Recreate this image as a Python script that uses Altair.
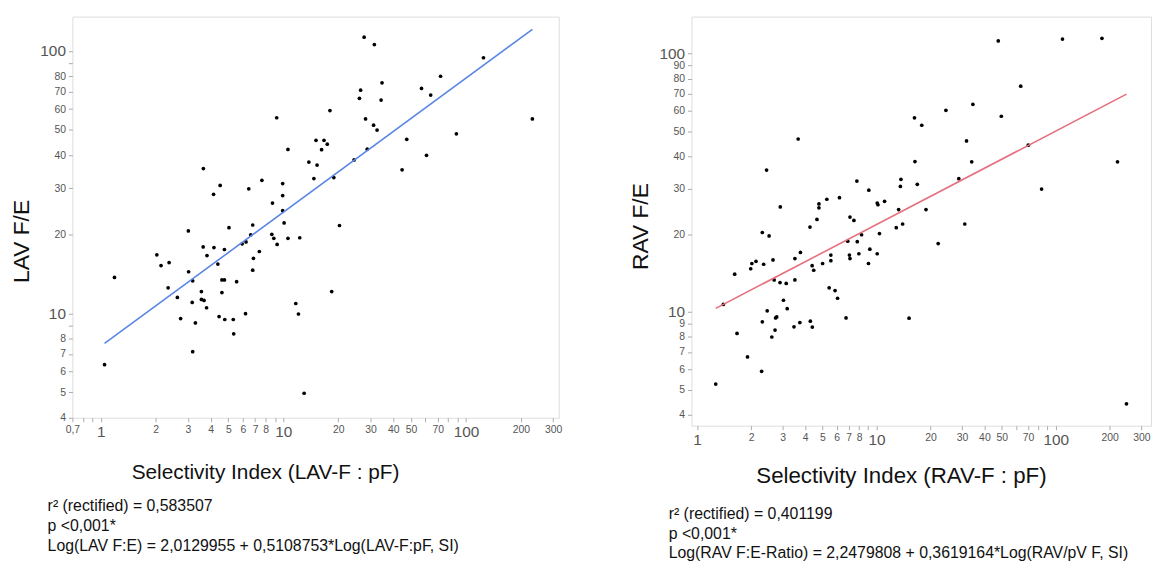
import altair as alt
import pandas as pd

# ---- Left panel data (LAV) ----
lav_si = [9.2, 10.6, 3.65, 4.15, 4.51, 6.47, 7.63, 9.92, 9.92, 8.72,
          9.92, 27.7, 31.5, 124.7, 72.6, 57.1, 64.1, 26.5, 26.1, 34.7,
          34.3, 18.0, 28.2, 231, 31.2, 32.6, 47.4, 88.6, 15.1, 16.7,
          17.4, 16.2, 28.8, 24.4, 13.8, 15.3, 60.8, 44.7, 14.7, 18.9,
          10.1, 10.6, 8.65, 8.87, 9.25, 12.3, 20.3, 18.4, 11.7, 12.1,
          13.0, 2.03, 2.14, 2.37, 2.34, 2.63, 1.19, 3.02, 3.03, 3.19,
          3.17, 2.74, 3.30, 3.19, 3.64, 3.82, 4.17, 4.76, 4.38, 5.04,
          3.56, 3.56, 3.68, 3.80, 4.61, 4.61, 4.76, 4.45, 4.78, 5.32,
          5.35, 5.55, 5.95, 6.25, 6.63, 6.80, 6.86, 6.80, 6.21, 7.39,
          1.05]
lav_fe = [55.6, 42.1, 35.6, 28.4, 30.7, 29.8, 32.1, 31.2, 28.1, 26.3,
          24.6, 112.7, 105.6, 94.1, 80.0, 71.9, 67.8, 70.8, 65.9, 75.5,
          64.9, 59.2, 55.0, 55.0, 52.1, 49.9, 46.0, 48.3, 45.6, 45.6,
          44.1, 42.0, 42.2, 38.4, 37.7, 36.7, 40.0, 35.2, 32.6, 32.9,
          22.1, 19.3, 20.0, 19.3, 18.3, 19.4, 21.6, 12.1, 10.9, 9.94,
          4.96, 16.7, 15.2, 15.6, 12.5, 11.5, 13.7, 20.6, 14.4, 13.3,
          11.0, 9.55, 9.19, 7.14, 17.9, 16.6, 17.8, 17.5, 15.4, 21.2,
          12.1, 11.3, 11.2, 10.5, 13.4, 12.0, 13.4, 9.72, 9.47, 9.47,
          8.35, 13.2, 18.4, 18.7, 19.9, 21.7, 16.2, 14.6, 9.97, 17.2,
          6.37]
lav_intercept = 2.0129955
lav_slope = 0.5108753

# ---- Right panel data (RAV) ----
rav_si = [3.66, 2.44, 2.91, 4.78, 4.78, 5.29, 6.22, 7.78, 9.07, 10.1,
          10.2, 11.1, 4.66, 4.26, 7.12, 7.49, 47.8, 109, 181, 63.8,
          34.5, 24.4, 49.7, 16.3, 17.9, 31.8, 70.3, 16.4, 34.0, 221,
          28.8, 13.7, 13.6, 16.9, 83.4, 13.3, 18.9, 14.0, 12.9, 31.1,
          2.31, 2.52, 7.82, 8.26, 6.92, 10.4, 3.77, 3.51, 2.65, 2.13,
          2.02, 2.35, 1.99, 1.62, 4.38, 4.47, 5.01, 5.57, 5.57, 7.07,
          7.12, 7.98, 9.19, 10.1, 9.03, 2.69, 2.90, 3.14, 3.51, 5.45,
          5.88, 6.07, 3.03, 3.18, 2.46, 2.74, 2.78, 2.31, 3.74, 4.28,
          4.39, 3.47, 2.72, 2.61, 6.77, 1.40, 1.67, 1.91, 2.29, 1.27,
          22.1, 15.2, 248]
rav_fe = [46.7, 35.4, 25.5, 26.2, 25.3, 27.3, 27.7, 32.1, 29.6, 26.4,
          26.0, 26.8, 22.8, 21.3, 23.3, 22.6, 111.9, 113.8, 114.5, 74.8,
          63.6, 60.3, 57.2, 56.4, 52.8, 45.9, 44.2, 38.2, 38.1, 38.1,
          32.8, 32.6, 30.6, 31.2, 29.9, 24.9, 24.9, 21.9, 21.2, 21.9,
          20.3, 19.7, 18.7, 19.9, 18.8, 20.1, 17.0, 16.1, 15.9, 15.7,
          15.4, 15.3, 14.7, 14.0, 15.1, 14.5, 15.4, 16.6, 15.8, 16.6,
          16.1, 16.8, 17.5, 16.8, 15.4, 13.3, 13.0, 12.9, 13.3, 12.4,
          12.1, 11.3, 11.1, 10.3, 10.1, 9.48, 9.57, 9.16, 9.10, 9.21,
          8.74, 8.76, 8.51, 8.00, 9.48, 10.7, 8.26, 6.70, 5.89, 5.26,
          18.4, 9.46, 4.41]
rav_intercept = 2.2479808
rav_slope = 0.3619164

# ---- tick values ----
lav_x_ticks = [0.7, 0.8, 0.9, 1, 2, 3, 4, 5, 6, 7, 8, 9, 10, 20, 30, 40, 50, 60, 70, 80, 90, 100, 200, 300]
lav_y_ticks = [4, 5, 6, 7, 8, 9, 10, 20, 30, 40, 50, 60, 70, 80, 90, 100]
rav_x_ticks = [1, 2, 3, 4, 5, 6, 7, 8, 9, 10, 20, 30, 40, 50, 60, 70, 80, 90, 100, 200, 300]
rav_y_ticks = [4, 5, 6, 7, 8, 9, 10, 20, 30, 40, 50, 60, 70, 80, 90, 100]
lav_x_unlabeled = [0.8, 0.9, 9, 60, 80, 90]
lav_y_unlabeled = [9, 90]
rav_x_unlabeled = [9, 60, 80, 90]
rav_y_unlabeled = []

lav_notes = ["r² (rectified) = 0,583507", "p <0,001*",
             "Log(LAV F:E) = 2,0129955 + 0,5108753*Log(LAV-F:pF, SI)"]
rav_notes = ["r² (rectified) = 0,401199", "p <0,001*",
             "Log(RAV F:E-Ratio) = 2,2479808 + 0,3619164*Log(RAV/pV F, SI)"]

FONT = "Liberation Sans"


def make_axis(values, unlabeled):
    hidden = "[" + ",".join(str(v) for v in unlabeled) + "]"
    return alt.Axis(
        values=values,
        labelExpr=f"indexof({hidden}, datum.value) >= 0 ? '' : replace(format(datum.value, '~g'), '.', ',')",
        labelFontSize={"condition": {"test": "datum.value == 1 || datum.value == 10 || datum.value == 100",
                                     "value": 15.5}, "value": 10.5},
        labelColor="#555555",
        labelFont=FONT,
        labelPadding=3,
        tickSize=4,
        tickColor="#aaaaaa",
        domain=False,
        grid=False,
        title=None,
        labelOverlap=False,
        labelFlush=False,
    )


def panel(si, fe, a, b, xdom, ydom, xticks, yticks, xun, yun, color,
          ytitle, xtitle, notes, w, h, ytitle_x, ytitle_y, xtitle_x, xtitle_y,
          xtitle_size, notes_x, notes_y):
    df = pd.DataFrame({"si": si, "fe": fe})
    xs = alt.Scale(type="log", domain=xdom, nice=False, zero=False)
    ys = alt.Scale(type="log", domain=ydom, nice=False, zero=False)
    pts = alt.Chart(df).mark_circle(color="black", size=14, opacity=1).encode(
        x=alt.X("si:Q", scale=xs, axis=make_axis(xticks, xun)),
        y=alt.Y("fe:Q", scale=ys, axis=make_axis(yticks, yun)),
    )
    ldf = pd.DataFrame({"si": [min(si), max(si)]})
    line = alt.Chart(ldf).transform_calculate(
        fe=f"exp({a} + {b} * log(datum.si))"
    ).mark_line(color=color, strokeWidth=1.6).encode(
        x=alt.X("si:Q", scale=xs), y=alt.Y("fe:Q", scale=ys)
    )
    layers = [pts, line]
    yt = alt.Chart(pd.DataFrame({"t": [ytitle]})).mark_text(
        angle=270, fontSize=23, font=FONT, color="#111111", baseline="middle", align="center"
    ).encode(text="t:N", x=alt.value(ytitle_x), y=alt.value(ytitle_y))
    xt = alt.Chart(pd.DataFrame({"t": [xtitle]})).mark_text(
        fontSize=xtitle_size, font=FONT, color="#111111", baseline="middle", align="center"
    ).encode(text="t:N", x=alt.value(xtitle_x), y=alt.value(xtitle_y))
    layers += [yt, xt]
    for i, n in enumerate(notes):
        layers.append(
            alt.Chart(pd.DataFrame({"t": [n]})).mark_text(
                fontSize=16, font=FONT, color="#111111", baseline="middle", align="left"
            ).encode(text="t:N", x=alt.value(notes_x), y=alt.value(notes_y[i]))
        )
    return alt.layer(*layers).properties(width=w, height=h)


left = panel(lav_si, lav_fe, lav_intercept, lav_slope, [0.7, 322], [4, 135],
             lav_x_ticks, lav_y_ticks, lav_x_unlabeled, lav_y_unlabeled, "#5b86e5",
             "LAV F/E", "Selectivity Index (LAV-F : pF)", lav_notes, 491, 405,
             -51, 227, 195, 461, 21, -25, [494, 514, 535])

right = panel(rav_si, rav_fe, rav_intercept, rav_slope, [0.93, 340], [3.63, 139],
              rav_x_ticks, rav_y_ticks, rav_x_unlabeled, rav_y_unlabeled, "#e5707d",
              "RAV F/E", "Selectivity Index (RAV-F : pF)", rav_notes, 464, 413,
              -51, 212, 212, 464, 22.5, -23, [502, 522, 542])

chart = alt.hconcat(left, right, spacing=67).properties(
    padding={"left": 2, "top": 5, "right": 5, "bottom": 5}
).configure_view(stroke="#cccccc", strokeWidth=1.5).configure(background="white")

chart.save("out.html", embed_options={"renderer": "svg", "actions": False})
